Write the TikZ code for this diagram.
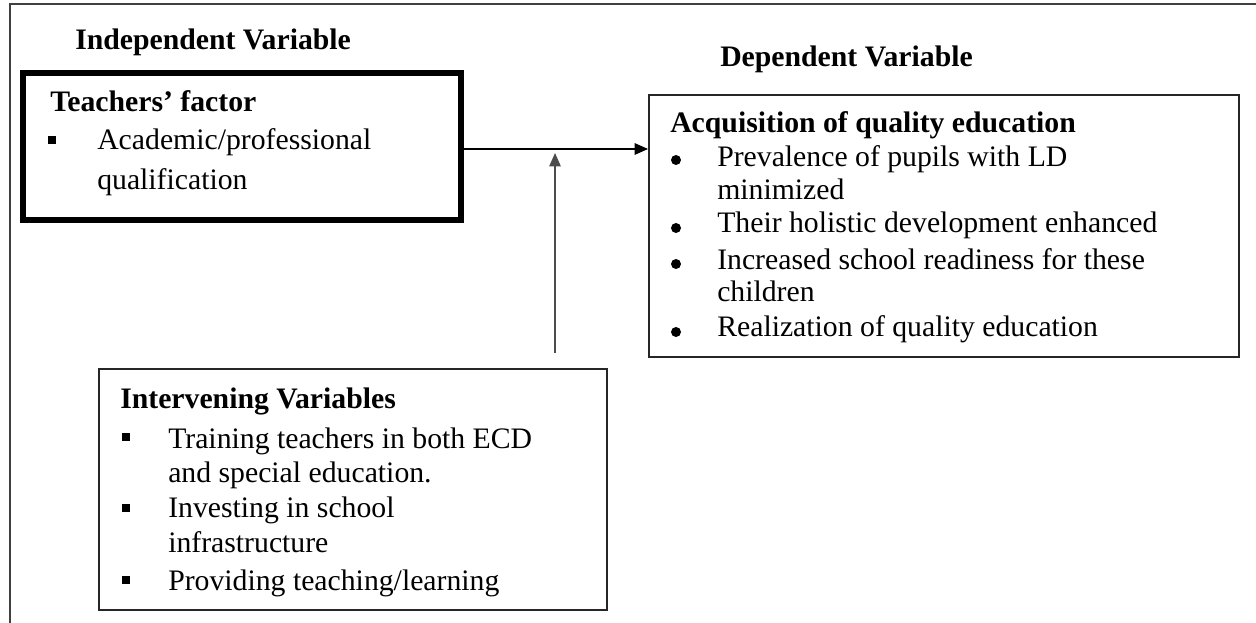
\documentclass[tikz,border=0pt]{standalone}
\usepackage{fontspec}
\setmainfont{Liberation Serif}
\usetikzlibrary{arrows.meta}
\begin{document}
\begin{tikzpicture}[x=0.75pt,y=-0.75pt,
  txt/.style={anchor=base west,inner sep=0pt,font=\fontsize{22.3}{26}\selectfont},
  head/.style={txt,font=\fontsize{22.3}{26}\selectfont\bfseries},
  box/.style={draw,rectangle,inner sep=0pt},
  sqb/.style={fill=black,inner sep=0pt,minimum size=6.5pt,draw=none},
  rdb/.style={circle,fill=black,inner sep=0pt,minimum size=7.5pt,draw=none},
  arr/.style={-{Triangle[length=10pt,width=8.5pt]},line width=1.2pt}]
\useasboundingbox (0,0) rectangle (1256,623);
% outer frame (top and left)
\draw[line width=1.6pt,black!75] (1256,4) -- (10,4) -- (10,623);
% boxes
\node[box,line width=4.5pt,minimum width=328.5pt,minimum height=110.25pt] (teach) at (242,146.5) {};
\node[box,line width=1.4pt,draw=black!85,minimum width=442.5pt,minimum height=196.5pt] (dep) at (944,226) {};
\node[box,line width=1.4pt,draw=black!85,minimum width=381pt,minimum height=180.75pt] (int) at (353,489.5) {};
% headings
\node[head] (iv) at (75,50) {Independent Variable};
\node[head] (dv) at (720,67) {Dependent Variable};
% teachers box
\node[head] (tf) at (50,112) {Teachers’ factor};
\node[sqb] (b1) at (52,140) {};
\node[txt] (t1) at (97,150) {Academic/professional};
\node[txt] (t2) at (97,190) {qualification};
% dependent box
\node[head] (aq) at (670,133) {Acquisition of quality education};
\node[rdb] (d1) at (676,160) {};
\node[txt] (dt1) at (717,167) {Prevalence of pupils with LD};
\node[txt] (dt1b) at (717,200) {minimized};
\node[rdb] (d2) at (676,228) {};
\node[txt] (dt2) at (717,233) {Their holistic development enhanced};
\node[rdb] (d3) at (676,264) {};
\node[txt] (dt3) at (717,270) {Increased school readiness for these};
\node[txt] (dt3b) at (717,302) {children};
\node[rdb] (d4) at (676,332) {};
\node[txt] (dt4) at (717,337) {Realization of quality education};
% intervening box
\node[head] (ivv) at (120,408) {Intervening Variables};
\node[sqb] (i1) at (126,437) {};
\node[txt] (it1) at (168,448) {Training teachers in both ECD};
\node[txt] (it1b) at (168,482) {and special education.};
\node[sqb] (i2) at (126,508) {};
\node[txt] (it2) at (168,517) {Investing in school};
\node[txt] (it2b) at (168,552) {infrastructure};
\node[sqb] (i3) at (126,580) {};
\node[txt] (it3) at (168,590) {Providing teaching/learning};
% connectors
\coordinate (ay) at (555,149);
\draw[arr] (teach.east |- ay) -- (dep.west |- ay);
\coordinate (vb) at (555,353);
\coordinate (vt) at (555,153);
\draw[arr,black!70] (vb) -- (vt);
\end{tikzpicture}
\end{document}
